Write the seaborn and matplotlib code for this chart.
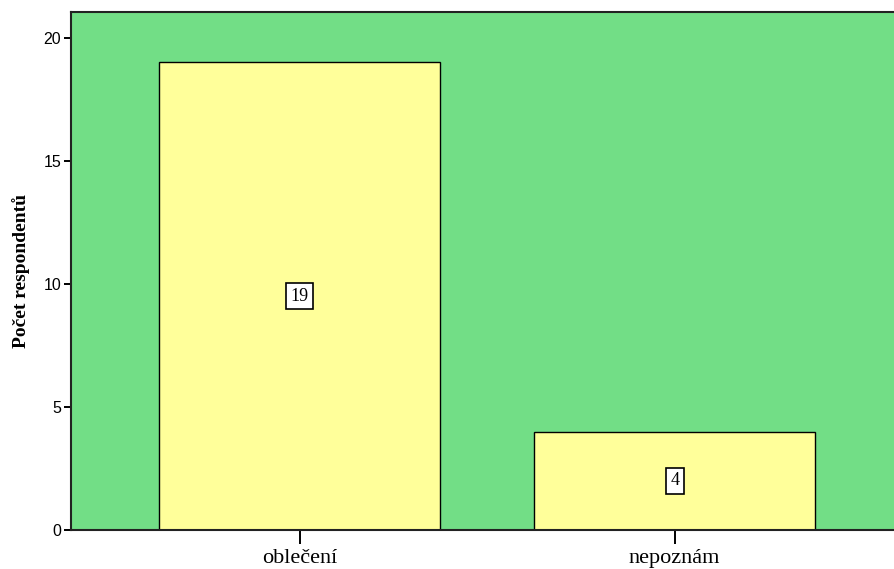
import matplotlib
matplotlib.use("Agg")
import matplotlib.pyplot as plt
import seaborn as sns
import pandas as pd

# data
categories = ["oblečení", "nepoznám"]
counts = [19, 4]
y_ticks = [0, 5, 10, 15, 20]

df = pd.DataFrame({"kategorie": categories, "pocet": counts})

sns.set_style("white")
plt.rcParams['font.family'] = ['Liberation Serif', 'DejaVu Serif']
plt.rcParams.update({"text.color": "black", "axes.labelcolor": "black",
                     "xtick.color": "black", "ytick.color": "black"})

fig = plt.figure(figsize=(8.94, 5.69), dpi=100)
ax = fig.add_axes([71 / 894, 39 / 569, 1 - 71 / 894, 518 / 569])
ax.set_facecolor("#72DE86")

sns.barplot(data=df, x="kategorie", y="pocet", color="#FFFF9A", saturation=1,
            width=0.75, edgecolor="black", linewidth=1.0, ax=ax)

# boxed value labels in the middle of each bar
for i, v in enumerate(counts):
    ax.text(i, v / 2, str(v), ha="center", va="center", fontsize=13,
            bbox=dict(boxstyle="square,pad=0.25", facecolor="white",
                      edgecolor="black", linewidth=1.2))

ax.set_xlim(-0.61, 1.585)
ax.set_ylim(0, 21.05)
ax.set_yticks(y_ticks)
ax.set_yticklabels([str(t) for t in y_ticks], family="Liberation Sans", fontsize=11.5)
ax.tick_params(axis="y", direction="out", length=5, width=1.4, left=True, pad=2)
ax.tick_params(axis="x", direction="out", length=10, width=1.4, bottom=True,
               labelsize=16, pad=4)
ax.set_xlabel("")
ax.set_ylabel("Počet respondentů", fontsize=14, fontweight="bold", labelpad=10)

for side in ["top", "left", "bottom"]:
    ax.spines[side].set_color("#222222")
    ax.spines[side].set_linewidth(1.5)
ax.spines["right"].set_visible(False)

fig.savefig("out.png", dpi=100)
